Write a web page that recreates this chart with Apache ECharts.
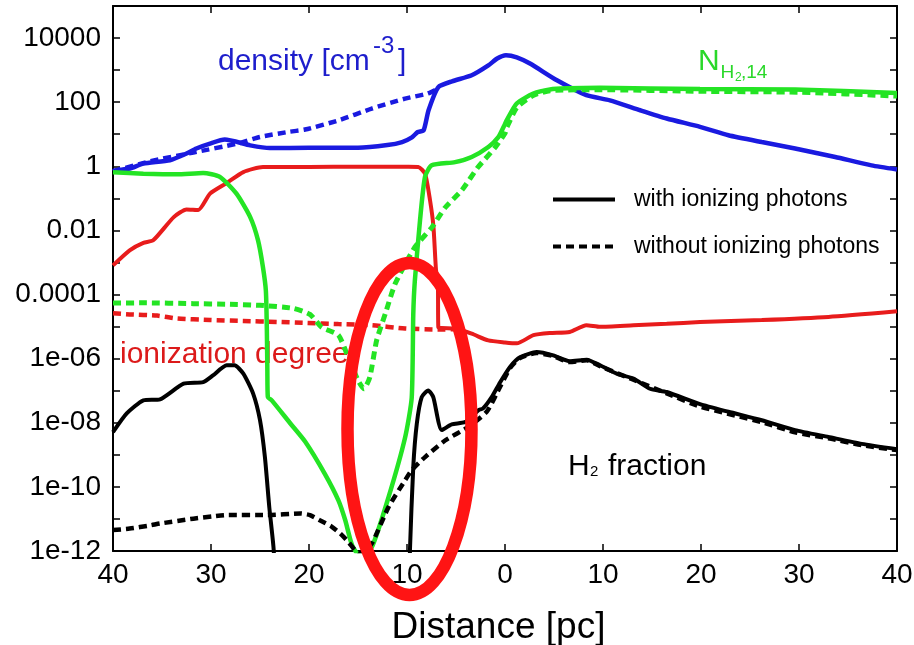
<!DOCTYPE html>
<html>
<head>
<meta charset="utf-8">
<script src="https://cdn.jsdelivr.net/npm/echarts@6/dist/echarts.min.js"></script>
<style>
  html, body { margin: 0; padding: 0; background: #fff; }
  #chart { width: 914px; height: 645px; }
</style>
</head>
<body>
<div id="chart"></div>
<script>
// Profiles across the cloud, distance in pc (negative = left side), values on a log scale.
const densityWith = [
  [-40, 0.70], [-39.6, 0.75], [-38.3, 0.85], [-36.9, 1.21], [-34.2, 1.54], [-32.5, 2.5],
  [-31.5, 3.6], [-30.1, 5.1], [-28.6, 6.8], [-26.0, 4.5], [-24.0, 3.7], [-20, 3.8],
  [-15, 3.8], [-12, 4.6], [-10.5, 5.7], [-9.5, 8.0], [-8.9, 11.7], [-8.3, 13.3],
  [-7.8, 56], [-6.8, 296], [-5.4, 448], [-3.4, 690], [-1.7, 1400], [-0.8, 2300],
  [0.1, 2900], [1.2, 2500], [2.55, 1600], [5.3, 480], [8.3, 165], [10.7, 114],
  [13.8, 56], [16.5, 31], [19.9, 17], [22.8, 9.3], [26.2, 5.7], [29.6, 3.6],
  [33.7, 1.95], [37.4, 1.07], [40, 0.80]
];
const densityWithout = [
  [-40, 0.70], [-36.2, 1.43], [-31.8, 2.7], [-27.3, 5.1], [-25, 8.2], [-22.2, 11.7],
  [-20.4, 14], [-17, 27], [-13.6, 63], [-10.2, 129], [-7.9, 186], [-6.8, 270]
];
const ionWith = [
  [-40, 8.1e-4], [-38.3, 2.4e-3], [-36.9, 4.1e-3], [-35.9, 4.9e-3], [-33.8, 0.026],
  [-32.5, 0.045], [-31.3, 0.043], [-30.1, 0.14], [-28.4, 0.30], [-26.7, 0.66],
  [-24.7, 0.95], [-20, 0.95], [-15, 0.97], [-10, 0.96], [-8.85, 0.95], [-8.16, 0.59],
  [-7.65, 0.087], [-7.3, 0.013], [-7.04, 5.8e-4], [-6.85, 2.7e-4], [-6.8, 9.5e-6],
  [-5.1, 8.7e-6], [-3.4, 6.0e-6], [-1.7, 3.7e-6], [0, 3.2e-6], [1.2, 3.0e-6],
  [2.9, 5.4e-6], [4.6, 6.3e-6], [6.6, 6.8e-6], [8.3, 1.1e-5], [9.7, 9.8e-6],
  [13.1, 1.1e-5], [16.5, 1.23e-5], [19.9, 1.38e-5], [26.2, 1.6e-5], [33.0, 2.0e-5],
  [40, 3.0e-5]
];
const ionWithout = [
  [-40, 2.6e-5], [-38.3, 2.4e-5], [-35.5, 2.2e-5], [-33.5, 1.8e-5], [-30.1, 1.6e-5],
  [-26.7, 1.5e-5], [-23.3, 1.4e-5], [-20.4, 1.3e-5], [-17, 1.2e-5], [-13.6, 1.1e-5],
  [-10.2, 8.7e-6], [-6.8, 8.1e-6], [-5.1, 8.3e-6]
];
const nh2With = [
  [-40, 0.65], [-36.9, 0.59], [-33.5, 0.56], [-30.8, 0.62], [-29.1, 0.47], [-27.4, 0.14],
  [-26.0, 0.026], [-25.2, 4.9e-3], [-24.7, 7.2e-4], [-24.4, 1.3e-4], [-24.3, 7.6e-6],
  [-24.25, 4.4e-7], [-24.2, 6.3e-8], [-23.8, 5.0e-8], [-21.9, 9.5e-9], [-20.4, 2.6e-9],
  [-18.4, 2.6e-10], [-17.0, 3.8e-11], [-16.3, 9.1e-12], [-15.6, 1.5e-12], [-14.8, 7e-13],
  [-13.6, 1.3e-12], [-11.9, 4.6e-11], [-10.2, 3.4e-9], [-9.52, 6.0e-8], [-9.36, 2.4e-5],
  [-9.2, 2.7e-4], [-8.67, 0.021], [-8.16, 0.47], [-7.48, 1.07], [-5.1, 1.35], [-3.4, 1.95],
  [-1.7, 4.0], [-0.68, 8.1], [0, 21], [0.17, 27], [1.19, 91], [2.89, 186], [4.59, 250],
  [6.3, 270], [9.7, 280], [19.9, 257], [29.6, 250], [40, 195]
];
const nh2Without = [
  [-40, 5.4e-5], [-36.9, 5.5e-5], [-31.8, 5.2e-5], [-28.4, 5.0e-5], [-25.0, 4.6e-5],
  [-21.6, 3.7e-5], [-19.9, 2.4e-5], [-18.7, 9.5e-6], [-17.0, 5.4e-6], [-16.0, 1.1e-6],
  [-15.0, 2.1e-7], [-14.4, 1.15e-7], [-13.8, 2.6e-7], [-13.1, 3.7e-6], [-12.2, 2.6e-5],
  [-11.2, 2.2e-4], [-9.2, 3.0e-3], [-7.45, 0.0126], [-6.1, 0.052], [-4.4, 0.18],
  [-2.76, 0.93], [-1.0, 3.9], [0, 10.7], [0.2, 16.6], [1.22, 69], [2.86, 162],
  [4.6, 229], [9.7, 245], [19.9, 219], [30.1, 204], [40, 155]
];
const h2With = [
  [-40, 5.1e-9], [-38.6, 1.95e-8], [-36.9, 5.0e-8], [-35.2, 5.4e-8], [-32.8, 1.66e-7],
  [-30.8, 1.86e-7], [-29.8, 3.0e-7], [-28.4, 6.2e-7], [-27.6, 6.2e-7], [-26.7, 3.4e-7],
  [-25.7, 8.1e-8], [-25.0, 1.2e-8], [-24.5, 8.5e-10], [-24.05, 2.3e-11], [-23.6, 1.05e-12],
  [-23.4, 1e-14], [-16, null], [-9.8, 1e-14], [-9.7, 1.05e-12], [-9.36, 4.2e-10],
  [-9.0, 9.3e-9], [-8.5, 6.3e-8], [-7.83, 1.02e-7], [-7.32, 6.3e-8], [-6.46, 5.9e-9],
  [-5.44, 8.9e-9], [-4.08, 1.05e-8], [-2.72, 2.45e-8], [-2.24, 2.8e-8], [-1.36, 6.3e-8],
  [-0.51, 1.8e-7], [0.51, 5.5e-7], [1.53, 1.1e-6], [3.23, 1.6e-6], [4.93, 1.26e-6],
  [6.6, 8.3e-7], [8.34, 9.3e-7], [9.7, 6.2e-7], [11.4, 3.4e-7], [13.1, 2.4e-7],
  [14.8, 1.15e-7], [16.5, 9.1e-8], [19.9, 3.8e-8], [22.8, 2.2e-8], [26.2, 1.2e-8],
  [29.6, 5.9e-9], [33.0, 3.6e-9], [36.4, 2.2e-9], [40, 1.5e-9]
];
const h2Without = [
  [-40, 4.5e-12], [-38.3, 5.0e-12], [-36.2, 6.3e-12], [-35.2, 7.2e-12], [-31.8, 1.02e-11],
  [-29.8, 1.2e-11], [-28.4, 1.32e-11], [-24.3, 1.32e-11], [-20.9, 1.48e-11], [-19.9, 1.32e-11],
  [-18.9, 9.1e-12], [-17.7, 5.8e-12], [-16.8, 3.5e-12], [-16.0, 1.95e-12], [-15.3, 1.05e-12],
  [-14.8, 8e-13], [-13.6, 1.7e-12], [-11.9, 2.3e-11], [-10.2, 1.6e-10], [-9.52, 3.3e-10],
  [-8.16, 8.5e-10], [-6.12, 2.8e-9], [-3.74, 7.4e-9], [-1.87, 2.2e-8], [-0.85, 8.1e-8],
  [0.5, 5.0e-7], [1.53, 1.05e-6], [3.23, 1.5e-6], [4.93, 1.2e-6], [6.6, 7.8e-7],
  [8.34, 8.9e-7], [9.7, 5.8e-7], [13.1, 2.2e-7], [16.5, 8.3e-8], [19.9, 3.2e-8],
  [26.2, 1.05e-8], [29.6, 5.0e-9], [33.0, 3.3e-9], [36.4, 2.0e-9], [40, 1.4e-9]
];

// Axis tick labels
const xTickLabels = ['40', '30', '20', '10', '0', '10', '20', '30', '40'];
const yTickLabels = { '-12': '1e-12', '-10': '1e-10', '-8': '1e-08', '-6': '1e-06',
  '-4': '0.0001', '-2': '0.01', '0': '1', '2': '100', '4': '10000' };
const legendNames = ['with ionizing photons', 'without ionizing photons'];

const FONT = '"Liberation Sans", Arial, Helvetica, sans-serif';
const BLUE = '#1a1ae0', GREEN = '#24e424', RED = '#e81c1c', BLACK = '#000';
const DASH = [8, 5];

const chart = echarts.init(document.getElementById('chart'), null, { renderer: 'canvas' });

function yLabel(v) {
  const e = Math.round(Math.log10(v));
  return yTickLabels[String(e)] || '';
}
function xLabel(v) {
  return xTickLabels[Math.round((v + 40) / 10)] || '';
}

const xBase = {
  type: 'value', min: -40, max: 40, interval: 10,
  axisLine: { show: true, onZero: false, lineStyle: { color: BLACK, width: 2 } },
  axisTick: { show: true, inside: true, length: 7, lineStyle: { color: BLACK, width: 1.5 } },
  splitLine: { show: false }
};
const yBase = {
  type: 'log', logBase: 10, min: 1e-12, max: 1e5, interval: 1,
  axisLine: { show: true, onZero: false, lineStyle: { color: BLACK, width: 2 } },
  axisTick: { show: true, inside: true, length: 7, lineStyle: { color: BLACK, width: 1.5 } },
  splitLine: { show: false }, minorTick: { show: false }
};

function lineSeries(name, data, color, dashed, width) {
  return {
    name: name, type: 'line', data: data, symbol: 'none', smooth: 0.2,
    clip: true, silent: true,
    lineStyle: { color: color, width: width, type: dashed ? DASH : 'solid', cap: 'butt' },
    itemStyle: { color: color }
  };
}

// Text placed by baseline (canvas 'middle' sits ~0.35em above the baseline)
function txt(str, x, baseline, size, color) {
  return {
    type: 'text', x: x, y: baseline - 0.35 * size, z: 1,
    style: { text: str, fontSize: size, fontFamily: FONT, fill: color,
             align: 'left', verticalAlign: 'middle' }
  };
}

const option = {
  backgroundColor: '#fff',
  animation: false,
  grid: { left: 113, right: 17, top: 6, bottom: 94, containLabel: false, outerBoundsMode: 'none' },
  legend: {
    data: legendNames, orient: 'vertical', left: 551, top: 188, padding: 0,
    itemWidth: 62, itemHeight: 14, itemGap: 24, selectedMode: false,
    itemStyle: { opacity: 0 },
    lineStyle: { width: 4, cap: 'butt' },
    formatter: function (n) { return '{t|' + n + '}'; },
    textStyle: { fontSize: 23, color: BLACK, fontFamily: FONT,
      rich: { t: { fontSize: 23, fontFamily: FONT, color: BLACK, padding: [0, 0, 0, 14] } } }
  },
  xAxis: [
    Object.assign({}, xBase, {
      position: 'bottom',
      axisLabel: { show: true, fontSize: 28, color: BLACK, fontFamily: FONT, margin: 10, formatter: xLabel },
      name: 'Distance [pc]', nameLocation: 'middle', nameGap: 58,
      nameTextStyle: { fontSize: 37, color: BLACK, fontFamily: FONT, padding: [0, 13, 0, 0] }
    }),
    Object.assign({}, xBase, { position: 'top', axisLabel: { show: false } })
  ],
  yAxis: [
    Object.assign({}, yBase, {
      position: 'left',
      axisLabel: { show: true, fontSize: 28, color: BLACK, fontFamily: FONT, margin: 12, formatter: yLabel }
    }),
    Object.assign({}, yBase, { position: 'right', axisLabel: { show: false } })
  ],
  series: [
    lineSeries('ion_without', ionWithout, RED, true, 4.5),
    lineSeries('ion_with', ionWith, RED, false, 4),
    lineSeries('density_without', densityWithout, BLUE, true, 4.5),
    lineSeries('density_with', densityWith, BLUE, false, 4.5),
    lineSeries('nh2_without', nh2Without, GREEN, true, 5),
    lineSeries('nh2_with', nh2With, GREEN, false, 4.5),
    lineSeries('h2_without', h2Without, BLACK, true, 4.5),
    lineSeries('h2_with', h2With, BLACK, false, 4),
    lineSeries(legendNames[0], [], BLACK, false, 4),
    lineSeries(legendNames[1], [], BLACK, true, 4)
  ],
  graphic: [
    txt('density [cm', 218, 72, 30, '#1e1ecc'),
    txt('-3', 373, 55, 24, '#1e1ecc'),
    txt(']', 398, 72, 30, '#1e1ecc'),
    txt('N', 698, 72, 30, '#2ad82a'),
    txt('H', 720.5, 79, 19, '#2ad82a'),
    txt('2', 735, 82, 12, '#2ad82a'),
    txt(',14', 741, 79, 19, '#2ad82a'),
    txt('ionization degree', 120, 365, 30, '#dc1a1a'),
    txt('H', 568, 477, 30, BLACK),
    txt('2', 590, 477, 15, BLACK),
    txt('fraction', 608, 477, 30, BLACK),
    {
      type: 'ellipse', z: 100, silent: true,
      shape: { cx: 409.5, cy: 429, rx: 62, ry: 166 },
      style: { fill: 'none', stroke: '#ff1414', lineWidth: 12.5 }
    }
  ]
};

chart.setOption(option);
</script>
</body>
</html>
